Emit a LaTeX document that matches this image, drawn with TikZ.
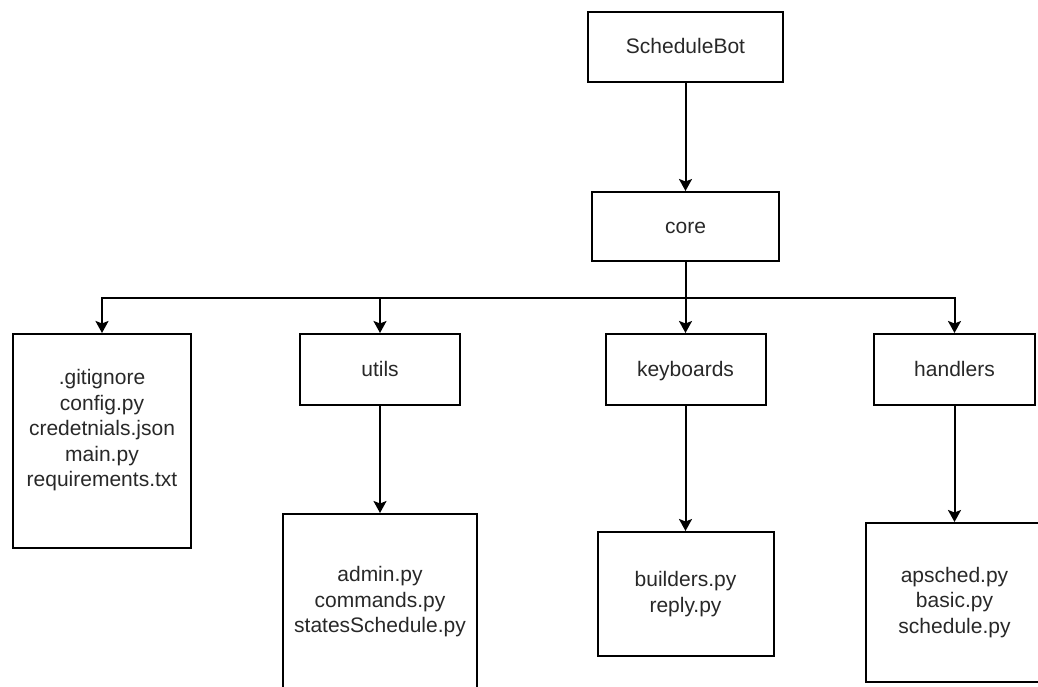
\documentclass[tikz,border=0pt]{standalone}
\usepackage{fontspec}
\setmainfont{Liberation Sans}
\usetikzlibrary{arrows.meta}
\definecolor{txt}{RGB}{40,40,40}
\tikzset{
  box/.style={draw, line width=2pt, align=center, text=txt, inner sep=0pt,
    font=\fontsize{21}{25.5}\selectfont},
  onebox/.style={box, text height=15pt, text depth=1pt},
  arr/.style={line width=2pt, -{Stealth[length=12pt,width=13pt,inset=2.5pt]}},
}
\begin{document}
\begin{tikzpicture}[x=1pt,y=-1pt]
\useasboundingbox (0,0) rectangle (1038,687);
\node[onebox,minimum width=195,minimum height=70] (bot) at (685.5,47) {ScheduleBot};
\node[onebox,minimum width=187,minimum height=69] (core) at (685.5,226.5) {core};
\node[box,minimum width=178,minimum height=214] (misc) at (102,441)
  {.gitignore\\config.py\\credetnials.json\\main.py\\requirements.txt\\\mbox{}};
\node[onebox,minimum width=160,minimum height=71] (utils) at (380,369.5) {utils};
\node[onebox,minimum width=160,minimum height=71] (keyb) at (685.5,369.5) {keyboards};
\node[onebox,minimum width=161,minimum height=71] (hand) at (954.5,369.5) {handlers};
\node[box,minimum width=194,minimum height=176] (utilsf) at (380,602)
  {admin.py\\commands.py\\statesSchedule.py};
\node[box,minimum width=176,minimum height=124] (keybf) at (685.5,594)
  {builders.py\\reply.py};
\node[box,minimum width=178,minimum height=159] (handf) at (954.5,602.5)
  {apsched.py\\basic.py\\schedule.py};
\coordinate (split) at (685.5,298);
\draw[arr] (bot) -- (core);
\draw[line width=2pt] (core) -- (split);
\foreach \n in {misc,utils,keyb,hand}
  \draw[arr] (split) -| (\n);
\draw[arr] (utils) -- (utilsf);
\draw[arr] (keyb) -- (keybf);
\draw[arr] (hand) -- (handf);
\end{tikzpicture}
\end{document}
